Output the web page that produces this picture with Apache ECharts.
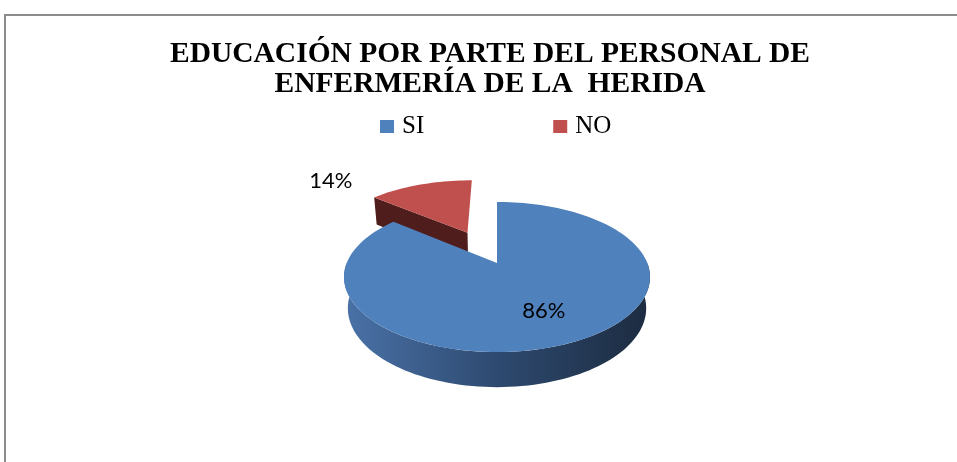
<!DOCTYPE html>
<html>
<head>
<meta charset="utf-8">
<title>Educación por parte del personal de enfermería de la herida</title>
<script src="https://cdn.jsdelivr.net/npm/echarts@6/dist/echarts.min.js"></script>
<style>
  html, body { margin: 0; padding: 0; background: #fff; }
  #chart { width: 957px; height: 462px; }
</style>
</head>
<body>
<div id="chart"></div>
<script>
// data
const categories = ['SI', 'NO'];
const values = [86, 14];
const titleLines = ['EDUCACIÓN POR PARTE DEL PERSONAL DE', 'ENFERMERÍA DE LA  HERIDA'];

// styles
const topColors = ['#4f81bd', '#c0504d'];
const wallColors = [['#4a72a8', '#2e4a70', '#1c2b40'], ['#8a3533', '#5e2220', '#3f1615']];
const radialColors = ['#2e4a70', '#4f1d1c'];
const explode = [0, 0.5];

// fake 3d pie: simple perspective camera
const CX = 497, CY = 263, R = 150.3, DEPTH = 0.24;
const TILT_SIN = 0.4817, TILT_COS = 0.8763, DIST = 4.69;

const total = values.reduce((a, b) => a + b, 0);

function sliceAngles(i) {
  let start = 0;
  for (let j = 0; j < i; j++) start += values[j];
  return [start / total * Math.PI * 2, (start + values[i]) / total * Math.PI * 2];
}

// x right, z toward viewer, y up
function project(x, z, y) {
  const w = z * TILT_COS + y * TILT_SIN;
  const s = DIST / (DIST - w);
  return [CX + R * x * s, CY + R * (z * TILT_SIN - y * TILT_COS) * s];
}

function rim(ox, oz, theta, r, y) {
  return project(ox + r * Math.sin(theta), oz - r * Math.cos(theta), y);
}

function arc(ox, oz, a0, a1, y) {
  const n = Math.max(2, Math.ceil((a1 - a0) / (Math.PI / 90)));
  const pts = [];
  for (let k = 0; k <= n; k++) pts.push(rim(ox, oz, a0 + (a1 - a0) * k / n, 1, y));
  return pts;
}

function renderSlice(params, api) {
  const i = params.seriesIndex;
  const [a0, a1] = sliceAngles(i);
  const mid = (a0 + a1) / 2;
  const ox = explode[i] * Math.sin(mid), oz = -explode[i] * Math.cos(mid);
  const children = [];

  // outer wall, front half only
  const w0 = Math.max(a0, Math.PI / 2), w1 = Math.min(a1, Math.PI * 1.5);
  if (w1 > w0) {
    const pts = arc(ox, oz, w0, w1, 0).concat(arc(ox, oz, w0, w1, -DEPTH).reverse());
    children.push({
      type: 'polygon', z2: 1,
      shape: { points: pts },
      style: {
        fill: {
          type: 'linear', x: 0, y: 0, x2: 1, y2: 0,
          colorStops: [
            { offset: 0, color: wallColors[i][0] },
            { offset: 0.5, color: wallColors[i][1] },
            { offset: 1, color: wallColors[i][2] }
          ]
        }
      }
    });
  }

  // radial walls facing the viewer
  const radial = (a) => ({
    type: 'polygon', z2: 2,
    shape: { points: [project(ox, oz, 0), rim(ox, oz, a, 1, 0), rim(ox, oz, a, 1, -DEPTH), project(ox, oz, -DEPTH)] },
    style: { fill: radialColors[i] }
  });
  if (Math.sin(a0) < -1e-6) children.push(radial(a0));
  if (Math.sin(a1) > 1e-6) children.push(radial(a1));

  // top face
  children.push({
    type: 'polygon', z2: 3,
    shape: { points: [project(ox, oz, 0)].concat(arc(ox, oz, a0, a1, 0)) },
    style: { fill: topColors[i] }
  });

  // label: inside for big slices, outside for small ones
  const share = api.value(0) / total;
  const inside = share > 0.2;
  const la = inside ? mid : mid - 25 * Math.PI / 180;
  const lp = rim(ox, oz, la, inside ? 0.65 : 1.55, 0);
  children.push({
    type: 'text', z2: 50,
    x: lp[0], y: lp[1],
    style: {
      text: Math.round(share * 100) + '%',
      fill: '#000',
      fontFamily: 'Lato',
      fontSize: 22,
      align: 'center',
      verticalAlign: 'middle'
    }
  });

  return { type: 'group', children: children };
}

const chart = echarts.init(document.getElementById('chart'));

chart.setOption({
  animation: false,
  backgroundColor: '#fff',
  title: {
    text: titleLines.join('\n'),
    left: 490,
    top: 39,
    textAlign: 'center',
    padding: 0,
    textStyle: {
      fontFamily: 'Liberation Serif',
      fontWeight: 'bold',
      fontSize: 29.5,
      lineHeight: 30,
      color: '#000'
    }
  },
  legend: {
    data: categories,
    left: 380,
    top: 114,
    padding: 0,
    icon: 'rect',
    itemWidth: 14,
    itemHeight: 13,
    itemGap: 129,
    textStyle: { fontFamily: 'Liberation Serif', fontSize: 25, color: '#000', padding: [0, 0, 0, 3] }
  },
  graphic: [{
    type: 'rect',
    shape: { x: 5, y: 15, width: 1000, height: 500 },
    style: { fill: 'none', stroke: '#8c8c8c', lineWidth: 2 },
    silent: true
  }],
  series: categories.map((name, i) => ({
    type: 'custom',
    name: name,
    coordinateSystem: 'none',
    z: 10 - i,
    itemStyle: { color: topColors[i] },
    renderItem: renderSlice,
    data: [values[i]]
  }))
});
</script>
</body>
</html>
